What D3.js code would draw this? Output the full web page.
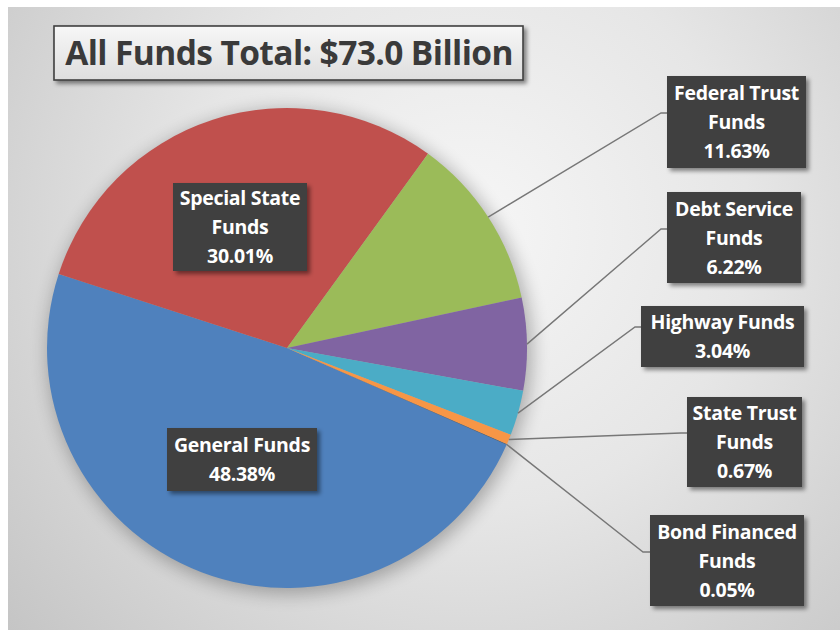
<!DOCTYPE html>
<html>
<head>
<meta charset="utf-8">
<script src="https://cdn.jsdelivr.net/npm/d3@7"></script>
<style>
  html, body { margin: 0; padding: 0; background: #ffffff; }
  svg { display: block; }
</style>
</head>
<body>
<svg id="chart" width="840" height="630"></svg>
<script>
// Fund shares of the all-funds total (percent)
const categories = ["General Funds", "Special State Funds", "Federal Trust Funds",
  "Debt Service Funds", "Highway Funds", "State Trust Funds", "Bond Financed Funds"];
const shares = [48.38, 30.01, 11.63, 6.22, 3.04, 0.67, 0.05];
const labelLines = [
  ["General Funds"],
  ["Special State", "Funds"],
  ["Federal Trust", "Funds"],
  ["Debt Service", "Funds"],
  ["Highway Funds"],
  ["State Trust", "Funds"],
  ["Bond Financed", "Funds"]
];
const titleText = "All Funds Total: $73.0 Billion";

// Presentation
const colors = ["#4f81bd", "#c0504d", "#9bbb59", "#8064a2", "#4bacc6", "#f79646", "#2c4d75"];
// label boxes: x, y, w, h; leader bend point (null = label sits on the slice)
const boxes = [
  { x: 167, y: 428, w: 150, h: 63, bend: null },
  { x: 173, y: 183, w: 134, h: 88, bend: null },
  { x: 667, y: 76,  w: 139, h: 92, bend: [661, 113] },
  { x: 667, y: 192, w: 134, h: 91, bend: [661, 229] },
  { x: 641, y: 306, w: 163, h: 61, bend: [635, 327] },
  { x: 687, y: 397, w: 115, h: 90, bend: [681, 433] },
  { x: 650, y: 515, w: 154, h: 91, bend: [643, 552] }
];

const W = 840, H = 630;
const cx = 287, cy = 348, R = 240;
const FONT = "'Open Sans', Lato, sans-serif";
const svg = d3.select("#chart");
const defs = svg.append("defs");

const bg = defs.append("radialGradient").attr("id", "bgGrad")
  .attr("gradientUnits", "userSpaceOnUse")
  .attr("cx", 470).attr("cy", 230).attr("r", 620);
bg.append("stop").attr("offset", "0%").attr("stop-color", "#f6f6f6");
bg.append("stop").attr("offset", "45%").attr("stop-color", "#e6e6e6");
bg.append("stop").attr("offset", "100%").attr("stop-color", "#c4c4c4");

const tg = defs.append("linearGradient").attr("id", "titleGrad")
  .attr("x1", 0).attr("y1", 0).attr("x2", 0).attr("y2", 1);
tg.append("stop").attr("offset", "0%").attr("stop-color", "#f7f7f7");
tg.append("stop").attr("offset", "100%").attr("stop-color", "#dedede");

const sh = defs.append("filter").attr("id", "boxShadow")
  .attr("x", "-20%").attr("y", "-20%").attr("width", "140%").attr("height", "140%");
sh.append("feDropShadow").attr("dx", 3).attr("dy", 3).attr("stdDeviation", 2)
  .attr("flood-color", "#000").attr("flood-opacity", 0.45);

const pieGlow = defs.append("filter").attr("id", "pieGlow")
  .attr("x", "-30%").attr("y", "-30%").attr("width", "160%").attr("height", "160%");
pieGlow.append("feGaussianBlur").attr("stdDeviation", 9);

// Chart area background
svg.append("rect").attr("x", 8).attr("y", 7).attr("width", W - 8).attr("height", H - 7)
  .attr("fill", "url(#bgGrad)");

// Pie
const a0 = 113.8 * Math.PI / 180;
const pie = d3.pie().sort(null).value(d => d).startAngle(a0).endAngle(a0 + 2 * Math.PI);
const arcs = pie(shares);
const arc = d3.arc().innerRadius(0).outerRadius(R);

const g = svg.append("g").attr("transform", `translate(${cx},${cy})`);
g.append("circle").attr("cx", 3).attr("cy", 4).attr("r", R + 2)
  .attr("fill", "#000").attr("opacity", 0.28).attr("filter", "url(#pieGlow)");
g.selectAll("path.slice").data(arcs).join("path")
  .attr("class", "slice")
  .attr("d", arc)
  .attr("fill", (d, i) => colors[i]);

// Leader lines from the slice edge to the label box
arcs.forEach((d, i) => {
  const b = boxes[i];
  if (!b.bend) return;
  const mid = (d.startAngle + d.endAngle) / 2;
  const p0 = [cx + R * Math.sin(mid), cy - R * Math.cos(mid)];
  svg.append("polyline")
    .attr("points", [p0, b.bend, [b.x, b.bend[1]]].map(p => p.join(",")).join(" "))
    .attr("fill", "none").attr("stroke", "#777777").attr("stroke-width", 1.4);
});

// Data labels
const fmt = v => v.toFixed(2) + "%";
arcs.forEach((d, i) => {
  const b = boxes[i];
  const lines = labelLines[i].concat([fmt(shares[i])]);
  const lg = svg.append("g");
  lg.append("rect").attr("x", b.x).attr("y", b.y).attr("width", b.w).attr("height", b.h)
    .attr("fill", "#404040").attr("filter", "url(#boxShadow)");
  const lh = 29;
  const top = b.y + b.h / 2 - (lines.length - 1) * lh / 2 + 7;
  lines.forEach((t, k) => {
    lg.append("text")
      .attr("x", b.x + b.w / 2).attr("y", top + k * lh)
      .attr("text-anchor", "middle")
      .attr("font-family", FONT)
      .attr("font-weight", "bold").attr("font-size", 19.5)
      .attr("letter-spacing", -0.3)
      .attr("fill", "#ffffff")
      .text(t);
  });
});

// Title
const tgp = svg.append("g");
tgp.append("rect").attr("x", 54).attr("y", 26).attr("width", 469).attr("height", 54)
  .attr("fill", "url(#titleGrad)").attr("stroke", "#404040").attr("stroke-width", 1.6)
  .attr("filter", "url(#boxShadow)");
tgp.append("text").attr("x", 289).attr("y", 65).attr("text-anchor", "middle")
  .attr("font-family", FONT)
  .attr("font-weight", "bold").attr("font-size", 33.5)
  .attr("letter-spacing", -0.6)
  .attr("fill", "#3a3a3a")
  .text(titleText);
</script>
</body>
</html>
